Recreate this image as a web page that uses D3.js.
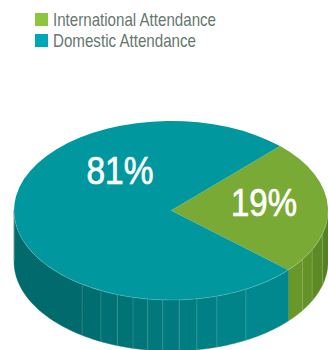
<!DOCTYPE html>
<html>
<head>
<meta charset="utf-8">
<script src="https://d3js.org/d3.v7.min.js"></script>
<style>
html,body{margin:0;padding:0;background:#fff}
svg{display:block}
text{font-family:"Liberation Sans",Arial,sans-serif}
</style>
</head>
<body>
<svg id="chart" width="328" height="350"></svg>
<script>
// Attendance split
const categories = ["International Attendance", "Domestic Attendance"];
const shares = [19, 81];
const shareLabels = ["19%", "81%"];
const topColors = ["#7aaa36", "#00979f"];
const legendColors = ["#8cc63f", "#00a7b5"];

// Disc geometry
const cx = 171, cy = 210.5, rx = 157, ry = 89.5, depth = 51;
const rad = d => d * Math.PI / 180;

// Rim seam angles, degrees clockwise from the right-hand end of the ellipse
const seamAngles = [15, 26, 33, 61.5, 73, 80.5, 87, 93, 98.5, 104, 110, 116.5, 124.5];

const svg = d3.select("#chart");

const arcs = d3.pie().sort(null).value(d => d)(shares);

// The tilted view widens the side of the disc facing right, so pie angles
// pass through a piecewise scale before they reach the ellipse.
const viewAngle = d3.scaleLinear()
  .domain([0, arcs[0].endAngle, 2 * Math.PI])
  .range([rad(44), rad(131.7), rad(404)]);

const px = t => cx + rx * Math.cos(t);
const py = t => cy + ry * Math.sin(t);

// Rim bands, drawn in ellipse parameter angle
const sliceEnd = viewAngle(arcs[0].endAngle) - Math.PI / 2;
const wallShade = d3.scaleLinear()
  .domain([rad(0), sliceEnd, sliceEnd + 1e-6, rad(62), rad(124), rad(180)])
  .range(["#4f7a22", "#6d9a2b", "#008a90", "#00868b", "#006c6f", "#00686b"]);

const edges = [0, ...seamAngles.map(rad).filter(t => t < sliceEnd), sliceEnd,
  ...seamAngles.map(rad).filter(t => t > sliceEnd), Math.PI];

const bandPath = (t0, t1) => {
  const ts = d3.range(0, 25).map(i => t0 + (t1 - t0) * i / 24);
  const pts = [
    ...ts.map(t => [px(t), py(t)]),
    ...ts.slice().reverse().map(t => [px(t), py(t) + depth])
  ];
  return d3.line()(pts) + "Z";
};

const bands = d3.pairs(edges);
svg.append("g").selectAll("path").data(bands).join("path")
  .attr("d", d => bandPath(d[0], d[1]))
  .attr("fill", d => wallShade((d[0] + d[1]) / 2))
  .attr("stroke", d => wallShade((d[0] + d[1]) / 2))
  .attr("stroke-width", 0.4);

svg.append("g").selectAll("line").data(seamAngles.map(rad)).join("line")
  .attr("x1", t => px(t)).attr("x2", t => px(t))
  .attr("y1", t => py(t)).attr("y2", t => py(t) + depth)
  .attr("stroke", "#ffffff").attr("stroke-opacity", 0.2).attr("stroke-width", 0.8);

// Left silhouette of the rim
svg.append("line")
  .attr("x1", px(Math.PI)).attr("x2", px(Math.PI))
  .attr("y1", py(Math.PI)).attr("y2", py(Math.PI) + depth)
  .attr("stroke", "#9fb5b5").attr("stroke-width", 0.7);

// Top face
const arcGen = d3.arc().innerRadius(0).outerRadius(rx);
svg.append("g")
  .attr("transform", `translate(${cx},${cy}) scale(1,${ry / rx})`)
  .selectAll("path").data(arcs).join("path")
  .attr("d", d => arcGen({startAngle: viewAngle(d.startAngle), endAngle: viewAngle(d.endAngle)}))
  .attr("fill", (d, i) => topColors[i]);

// Light highlight where the top face meets the rim
svg.append("path")
  .attr("d", d3.line()(d3.range(0, 91).map(i => {
    const t = Math.PI * i / 90;
    return [px(t), py(t)];
  })))
  .attr("fill", "none").attr("stroke", "#ffffff")
  .attr("stroke-opacity", 0.25).attr("stroke-width", 0.7);

// Value labels
const labelAnchors = [[264, 216], [120, 184]];
svg.append("g").selectAll("text").data(shareLabels).join("text")
  .attr("x", (d, i) => labelAnchors[i][0])
  .attr("y", (d, i) => labelAnchors[i][1])
  .attr("text-anchor", "middle")
  .attr("fill", "#ffffff")
  .attr("stroke", "#ffffff")
  .attr("stroke-width", 0.7)
  .attr("font-size", 39)
  .attr("textLength", (d, i) => i === 0 ? 66 : 67)
  .attr("lengthAdjust", "spacingAndGlyphs")
  .text(d => d);

// Legend
const legend = svg.append("g").selectAll("g").data(categories).join("g")
  .attr("transform", (d, i) => `translate(35,${13 + i * 21})`);
legend.append("rect")
  .attr("width", 13).attr("height", 13)
  .attr("fill", (d, i) => legendColors[i]);
legend.append("text")
  .attr("x", 18).attr("y", 12.5)
  .attr("font-size", 18.5)
  .attr("fill", "#66776f")
  .attr("textLength", (d, i) => i === 0 ? 163 : 143)
  .attr("lengthAdjust", "spacingAndGlyphs")
  .text(d => d);
</script>
</body>
</html>
